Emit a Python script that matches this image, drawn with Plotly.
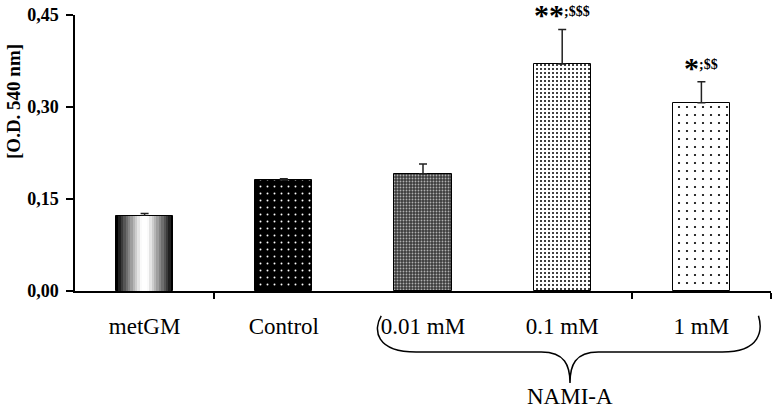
import plotly.graph_objects as go

categories = ["metGM", "Control", "0.01 mM", "0.1 mM", "1 mM"]
means = [0.122, 0.181, 0.191, 0.370, 0.307]
errors = [0.0045, 0.002, 0.016, 0.0565, 0.034]
signif = ["", "", "", "**", "*"]
signif_sup = ["", "", "", ";$$$", ";$$"]
group_label = "NAMI-A"
y_title = "[O.D. 540 nm]"
y_ticks = [0.0, 0.15, 0.30, 0.45]
y_ticktext = ["0,00", "0,15", "0,30", "0,45"]

FONT = "Liberation Serif"
BW = 0.41
xs = list(range(len(categories)))

fig = go.Figure()

# metGM: cylinder-like gradient built from stacked layers of the same bar
N = 12
for k in range(N):
    frac = k / N
    g = int(round(255 * min(1.0, (frac / 0.85) ** 0.9)))
    fig.add_trace(go.Bar(
        x=[xs[0]], y=[means[0]], width=BW * (1 - frac),
        marker=dict(color=f"rgb({g},{g},{g})",
                    line=dict(color="black", width=1 if k == 0 else 0)),
        error_y=dict(type="data", symmetric=False, array=[errors[0]], arrayminus=[0],
                     color="#222", thickness=1.5, width=4, visible=(k == 0)),
        showlegend=False, hoverinfo="skip"))

patterns = [
    None,
    dict(shape=".", fgcolor="white", bgcolor="black", size=7, solidity=0.06, fillmode="replace"),
    dict(shape=".", fgcolor="#b0b0b0", bgcolor="#3c3c3c", size=3, solidity=0.3, fillmode="replace"),
    dict(shape=".", fgcolor="black", bgcolor="white", size=4, solidity=0.2, fillmode="replace"),
    dict(shape=".", fgcolor="black", bgcolor="white", size=8, solidity=0.06, fillmode="replace"),
]
for i in range(1, len(categories)):
    fig.add_trace(go.Bar(
        x=[xs[i]], y=[means[i]], width=BW,
        marker=dict(color=patterns[i]["bgcolor"], pattern=patterns[i],
                    line=dict(color="black", width=1)),
        error_y=dict(type="data", symmetric=False, array=[errors[i]], arrayminus=[0],
                     color="#222", thickness=1.5, width=4),
        showlegend=False, hoverinfo="skip"))

annotations = []
for i in range(len(categories)):
    if signif[i]:
        annotations.append(dict(
            x=xs[i], y=means[i] + errors[i], xref="x", yref="y",
            text=f'<b><span style="font-size:30px">{signif[i]}</span>'
                 f'<sup><span style="font-size:14px">{signif_sup[i]}</span></sup></b>',
            showarrow=False, yanchor="bottom", yshift=-4,
            font=dict(family=FONT, size=22, color="black")))

annotations.append(dict(
    x=3.056, y=-0.384, xref="x", yref="paper", text=group_label, showarrow=False,
    yanchor="middle", font=dict(family=FONT, size=23, color="black")))
annotations.append(dict(
    x=-0.0876, y=0.685, xref="paper", yref="paper", text=f"<b>{y_title}</b>",
    textangle=-90, showarrow=False, xanchor="center", yanchor="middle",
    font=dict(family=FONT, size=19, color="black")))

brace = ("M 1.70,-0.09 C 1.64,-0.14 1.66,-0.221 1.95,-0.221 L 2.85,-0.221 "
         "C 3.02,-0.221 3.056,-0.27 3.056,-0.333 C 3.056,-0.27 3.09,-0.221 3.26,-0.221 "
         "L 4.15,-0.221 C 4.43,-0.221 4.44,-0.14 4.41,-0.09")

fig.update_layout(
    width=773, height=409,
    margin=dict(l=75, r=2, t=15, b=118),
    paper_bgcolor="white", plot_bgcolor="white",
    barmode="overlay", bargap=0,
    separators=",.",
    annotations=annotations,
    shapes=[dict(type="path", path=brace, xref="x", yref="paper",
                 line=dict(color="black", width=1.5))],
    xaxis=dict(range=[-0.5, 4.5], tickmode="array", tickvals=xs, ticktext=categories,
               ticks="", showgrid=False, zeroline=False,
               showline=True, linecolor="black", linewidth=1.5,
               ticklabelstandoff=14,
               tickfont=dict(family=FONT, size=23, color="black"),
               minor=dict(tickmode="array", tickvals=[0.5, 3.5, 4.5], ticks="outside",
                          ticklen=6, tickwidth=1.5, tickcolor="black", showgrid=False)),
    yaxis=dict(range=[0, 0.45], tickmode="array", tickvals=y_ticks,
               ticktext=[f"<b>{t}</b>" for t in y_ticktext],
               ticks="outside", ticklen=7, tickwidth=1.5, tickcolor="black",
               showgrid=False, zeroline=False, showline=True, linecolor="black",
               linewidth=1.5, ticklabelstandoff=4,
               tickfont=dict(family=FONT, size=18, color="black")),
)

# remove the browser's default 8px body margin so the figure fills the window exactly
fig.write_html("out.html",
               config={"displayModeBar": False},
               post_script="document.body.style.margin='0';"
                           "document.documentElement.style.overflow='hidden';")
